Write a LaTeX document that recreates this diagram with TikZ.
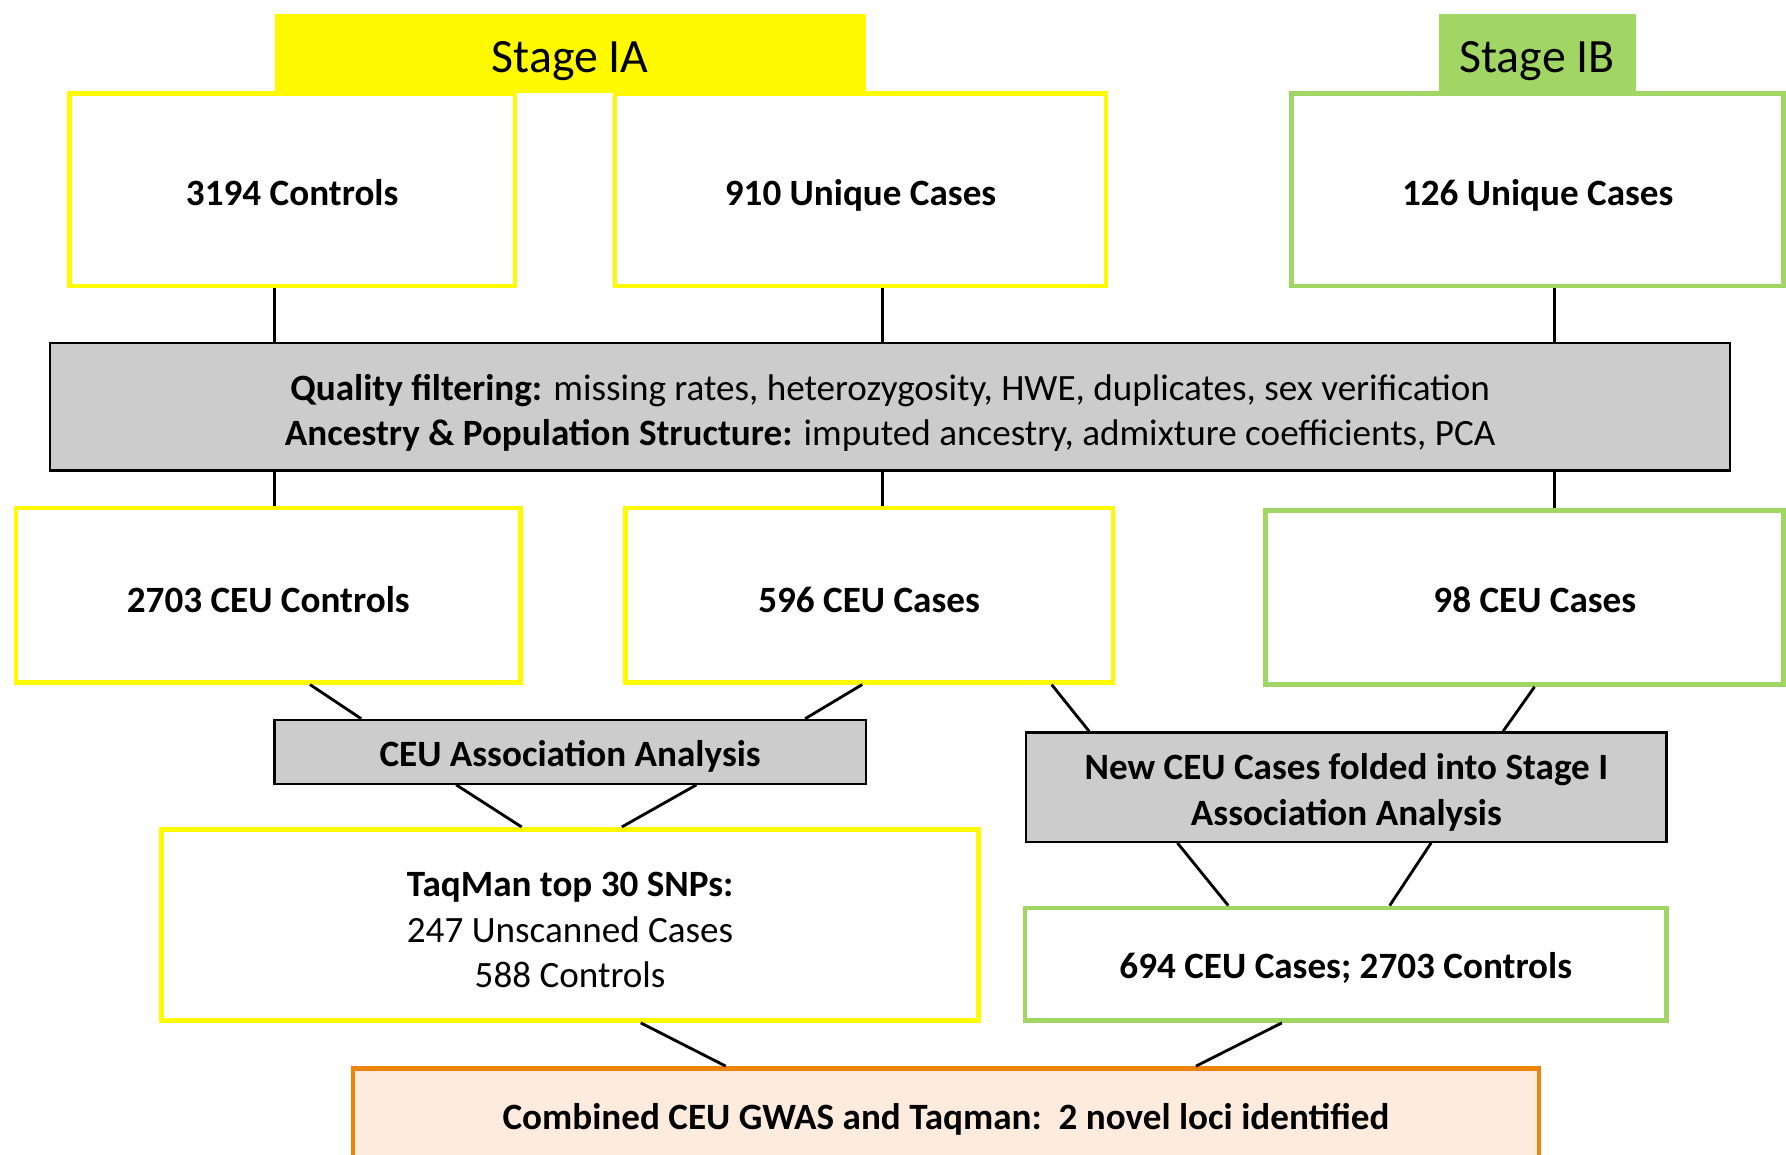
\documentclass[tikz,border=0pt]{standalone}
\usepackage{fontspec}
\setmainfont{Carlito}
\usetikzlibrary{calc}
\definecolor{yel}{RGB}{255,250,0}
\definecolor{grn}{RGB}{161,214,101}
\definecolor{gry}{RGB}{204,204,204}
\definecolor{org}{RGB}{236,132,14}
\definecolor{peach}{RGB}{253,235,222}
\tikzset{
  box/.style={rectangle, inner sep=0pt, align=center, font=\fontsize{16.3}{20}\selectfont\bfseries},
  ybox/.style={box, draw=yel, line width=2pt, fill=white},
  gbox/.style={box, draw=grn, line width=2pt, fill=white},
  graybox/.style={box, draw=black, line width=1pt, fill=gry},
  obox/.style={box, draw=org, line width=2pt, fill=peach},
  one/.style={text height=#1, text depth=0pt},
  stagebox/.style={rectangle, inner sep=0pt, font=\fontsize{21}{24}\selectfont, text height=16.3pt, text depth=0pt},
  conn/.style={line width=1.25pt, black}
}
\begin{document}
\begin{tikzpicture}[x=0.5pt,y=-0.5pt]
\useasboundingbox (0,0) rectangle (1568,1014);
\clip (0,0) rectangle (1568,1014);
\fill[white] (0,0) rectangle (1568,1014);
% stage headers
\node[stagebox, fill=yel, minimum width=259.5pt, minimum height=35pt] (stA) at (500.5,47) {Stage IA};
\node[stagebox, fill=grn, minimum width=86.5pt, minimum height=35pt] (stB) at (1349.5,47) {Stage IB};
% row 1
\node[ybox, one=13.8pt, minimum width=195.5pt, minimum height=84.5pt] (c3194) at (256.5,166.5) {3194 Controls};
\node[ybox, one=13.8pt, minimum width=215.5pt, minimum height=84.5pt] (c910) at (755.5,166.5) {910 Unique Cases};
\node[gbox, one=13.8pt, minimum width=216pt, minimum height=84.5pt] (c126) at (1350,166.5) {126 Unique Cases};
% quality
\node[graybox, minimum width=737.5pt, minimum height=56pt, font=\fontsize{16.3}{20}\selectfont] (q) at (781.5,357)
  {\rule{0pt}{14.3pt}\smash{\textbf{Quality filtering:} missing rates, heterozygosity, HWE, duplicates, sex verification}\\
   \smash{\textbf{Ancestry \& Population Structure:} imputed ancestry, admixture coefficients, PCA}};
% row 2
\node[ybox, one=14.8pt, minimum width=221.5pt, minimum height=76.5pt] (c2703) at (235.5,522.5) {2703 CEU Controls};
\node[ybox, one=14.8pt, minimum width=214pt, minimum height=76.5pt] (c596) at (763,522.5) {596 CEU Cases};
\node[gbox, one=12.8pt, minimum width=227.5pt, minimum height=76.5pt] (c98) at (1338.5,524.5) {\hspace*{9pt}98 CEU Cases};
% analyses
\node[graybox, one=13.3pt, minimum width=259.5pt, minimum height=28pt] (assoc) at (500.5,660) {CEU Association Analysis};
\node[graybox, minimum width=281pt, minimum height=48pt] (newceu) at (1182,691)
  {\rule{0pt}{13.3pt}\smash{New CEU Cases folded into Stage I}\\\smash{Association Analysis}};
% row 3
\node[ybox, minimum width=358.5pt, minimum height=84pt] (taq) at (500.5,812)
  {\rule{0pt}{15.3pt}\smash{TaqMan top 30 SNPs:}\\\smash{\mdseries 247 Unscanned Cases}\\\smash{\mdseries 588 Controls}};
\node[gbox, one=12.8pt, minimum width=281.5pt, minimum height=49.5pt] (c694) at (1181.5,846.5) {694 CEU Cases; 2703 Controls};
% combined
\node[obox, one=10.8pt, minimum width=520.5pt, minimum height=43pt] (comb) at (830.5,981) {Combined CEU GWAS and Taqman:\ \ 2 novel loci identified};

% vertical connectors
\coordinate (v1) at ($(c3194.south west)!0.46!(c3194.south east)$);
\coordinate (v2) at ($(c910.south west)!0.545!(c910.south east)$);
\coordinate (v3) at ($(c126.south west)!0.534!(c126.south east)$);
\draw[conn] (v1) -- (v1 |- q.north);
\draw[conn] (v2) -- (v2 |- q.north);
\draw[conn] (v3) -- (v3 |- q.north);
\draw[conn] (v1 |- q.south) -- (v1 |- c2703.north);
\draw[conn] (v2 |- q.south) -- (v2 |- c596.north);
\draw[conn] (v3 |- q.south) -- (v3 |- c98.north);
% diagonal connectors
\draw[conn] ($(c2703.south west)!0.582!(c2703.south east)$) -- ($(assoc.north west)!0.148!(assoc.north east)$);
\draw[conn] ($(c596.south west)!0.486!(c596.south east)$) -- ($(assoc.north west)!0.896!(assoc.north east)$);
\draw[conn] ($(assoc.south west)!0.308!(assoc.south east)$) -- ($(taq.north west)!0.441!(taq.north east)$);
\draw[conn] ($(assoc.south west)!0.713!(assoc.south east)$) -- ($(taq.north west)!0.563!(taq.north east)$);
\draw[conn] ($(c596.south west)!0.871!(c596.south east)$) -- ($(newceu.north west)!0.0996!(newceu.north east)$);
\draw[conn] ($(c98.south west)!0.519!(c98.south east)$) -- ($(newceu.north west)!0.744!(newceu.north east)$);
\draw[conn] ($(newceu.south west)!0.237!(newceu.south east)$) -- ($(c694.north west)!0.318!(c694.north east)$);
\draw[conn] ($(newceu.south west)!0.632!(newceu.south east)$) -- ($(c694.north west)!0.568!(c694.north east)$);
\draw[conn] ($(taq.south west)!0.586!(taq.south east)$) -- ($(comb.north west)!0.315!(comb.north east)$);
\draw[conn] ($(c694.south west)!0.401!(c694.south east)$) -- ($(comb.north west)!0.710!(comb.north east)$);
\end{tikzpicture}
\end{document}
